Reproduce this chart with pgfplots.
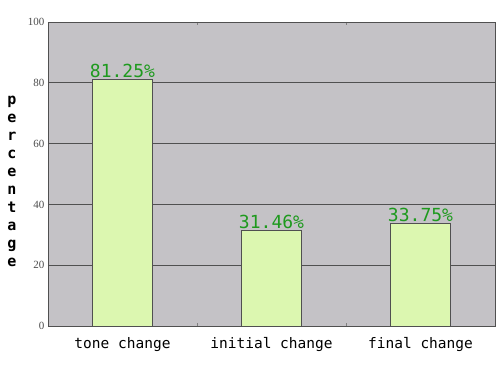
\documentclass[border=0pt]{standalone}
\usepackage{pgfplots}
\pgfplotsset{compat=1.18}
\usepackage{fontspec}
\setmainfont{Liberation Serif}
\newfontfamily\monofont{DejaVu Sans Mono}
\definecolor{bgray}{HTML}{C4C2C6}
\definecolor{barfill}{HTML}{DCF7B0}
\definecolor{valgreen}{HTML}{1E9A1E}
\definecolor{linegray}{HTML}{505050}
\begin{document}
\begin{tikzpicture}
\begin{axis}[
  scale only axis,
  width=447pt, height=304pt,
  xmin=-0.5, xmax=2.5,
  ymin=0, ymax=100,
  axis background/.style={fill=bgray},
  axis line style={linegray},
  xtick={0,1,2},
  xticklabels={tone change, initial change, final change},
  minor xtick={0.5,1.5},
  major x tick style={draw=none},
  minor tick length=3pt,
  tick align=inside,
  ytick={0,20,40,60,80,100},
  major y tick style={draw=none},
  ymajorgrids,
  grid style={linegray, line width=0.8pt},
  x tick label style={font=\monofont\fontsize{14.5}{16}\selectfont, text=black, yshift=-8pt},
  y tick label style={font=\fontsize{11}{12}\selectfont, text=black!70},
  /pgf/number format/assume math mode=true,
  nodes near coords={\pgfmathprintnumber[fixed,precision=2]{\pgfplotspointmeta}\%},
  nodes near coords style={font=\monofont\fontsize{18}{20}\selectfont, text=valgreen, inner sep=1pt},
]
\addplot[ybar, bar width=60pt, fill=barfill, draw=linegray] coordinates {(0,81.25) (1,31.46) (2,33.75)};
\end{axis}
\node[font=\monofont\bfseries\fontsize{15}{18}\selectfont, align=center, anchor=center] at ([xshift=-36pt, yshift=-7pt]current axis.west)
  {p\\e\\r\\c\\e\\n\\t\\a\\g\\e};
\path ([xshift=-48pt, yshift=-39pt]current axis.south west) rectangle ([xshift=4pt, yshift=22pt]current axis.north east);
\end{tikzpicture}
\end{document}
